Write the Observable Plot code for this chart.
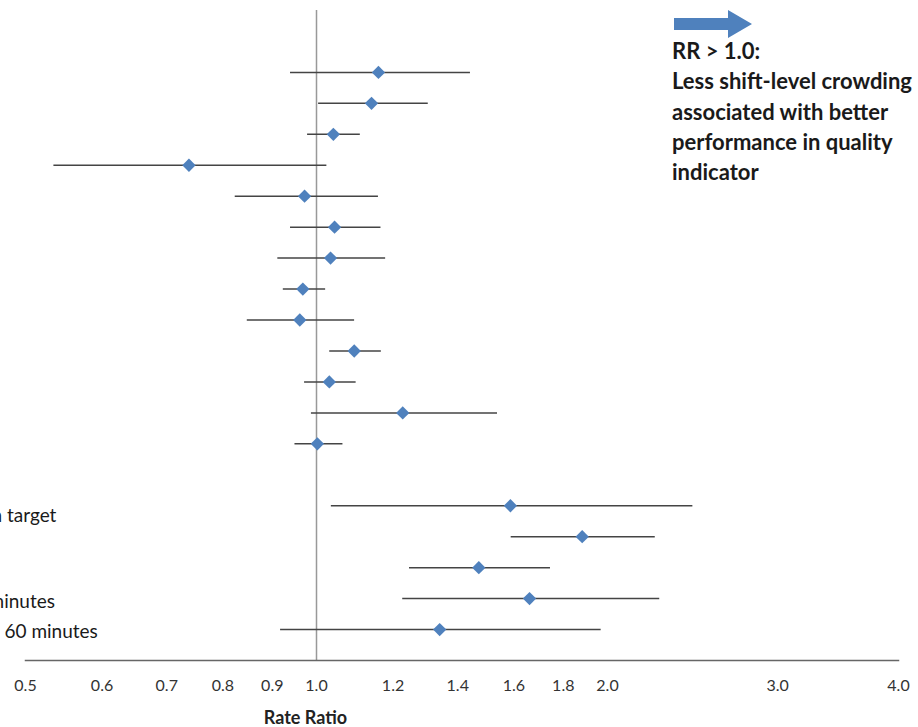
<!DOCTYPE html>
<html>
<head>
<meta charset="utf-8">
<script src="https://cdn.jsdelivr.net/npm/d3@7"></script>
<script src="https://cdn.jsdelivr.net/npm/@observablehq/plot@0.6"></script>
<style>
  html, body { margin: 0; padding: 0; background: #fff; }
  #wrap { position: relative; width: 918px; height: 727px; overflow: hidden; font-family: Lato, "Open Sans", sans-serif; }
  #note { position: absolute; left: 672px; top: 36px; font-weight: bold; font-size: 22px; line-height: 30.3px; color: #1a1a1a; white-space: nowrap; }
  #arrow { position: absolute; left: 672px; top: 8px; }
</style>
</head>
<body>
<div id="wrap"></div>
<script>
// Row identifiers (top to bottom); "gap" and "top" are empty slots
const slots = ["top", "r1", "r2", "r3", "r4", "r5", "r6", "r7", "r8", "r9", "r10", "r11", "r12", "r13", "gap", "r14", "r15", "r16", "r17", "r18"];
const rows = ["r1", "r2", "r3", "r4", "r5", "r6", "r7", "r8", "r9", "r10", "r11", "r12", "r13", "r14", "r15", "r16", "r17", "r18"];
const rateRatio = [1.159, 1.140, 1.041, 0.738, 0.972, 1.044, 1.034, 0.968, 0.961, 1.094, 1.031, 1.228, 1.002, 1.587, 1.883, 1.472, 1.661, 1.341];
const ciLow = [0.940, 1.005, 0.979, 0.535, 0.824, 0.940, 0.912, 0.924, 0.848, 1.032, 0.972, 0.988, 0.950, 1.036, 1.590, 1.248, 1.228, 0.918];
const ciHigh = [1.443, 1.305, 1.110, 1.025, 1.159, 1.166, 1.179, 1.022, 1.095, 1.167, 1.099, 1.539, 1.065, 2.451, 2.241, 1.746, 2.265, 1.970];
// Visible (cropped) row label fragments
const labelRows = ["r14", "r17", "r18"];
const labelTexts = ["n target", "minutes", "60 minutes"];
const labelShift = [-34, -37, -21];
const labelDy = [10, 3, 2];
const tickValues = [0.5, 0.6, 0.7, 0.8, 0.9, 1.0, 1.2, 1.4, 1.6, 1.8, 2.0, 3.0, 4.0];
const xTitle = "Rate Ratio";
const noteLines = ["RR > 1.0:", "Less shift-level crowding", "associated with better", "performance in quality", "indicator"];

const data = rows.map((r, i) => ({row: r, rr: rateRatio[i], lo: ciLow[i], hi: ciHigh[i]}));
const labels = labelRows.map((r, i) => ({row: r, text: labelTexts[i], shift: labelShift[i], dy: labelDy[i]}));

const chart = Plot.plot({
  width: 918,
  height: 727,
  marginLeft: 25,
  marginRight: 20,
  marginTop: 10,
  marginBottom: 67,
  style: {fontFamily: "Lato, 'Open Sans', sans-serif", fontSize: "16px", background: "#fff", overflow: "visible"},
  x: {type: "log", domain: [0.5, 4], ticks: tickValues, tickFormat: d3.format(".1f")},
  y: {type: "point", domain: slots, padding: 1, round: false, axis: null},
  marks: [
    Plot.ruleX([1], {stroke: "#999", strokeWidth: 1.5}),
    Plot.frame({anchor: "bottom", stroke: "#666", strokeWidth: 1.5}),
    Plot.axisX({ticks: tickValues, tickFormat: d3.format(".1f"), tickSize: 0, tickPadding: 19, fontSize: 16, fill: "#333", label: null}),
    Plot.ruleY(data, {y: "row", x1: "lo", x2: "hi", stroke: "#444", strokeWidth: 1.5}),
    Plot.dot(data, {y: "row", x: "rr", symbol: "diamond2", r: 6, fill: "#4f81bd", stroke: "none"}),
    ...labels.map(l => Plot.text([l], {y: "row", text: "text", frameAnchor: "left", textAnchor: "start", dx: l.shift, dy: l.dy, fontSize: 19, fill: "#1a1a1a"})),
    Plot.text([xTitle], {x: [1], frameAnchor: "bottom", dx: -11, dy: 58, fontWeight: "bold", fontSize: 18, fill: "#222", lineAnchor: "middle"})
  ]
});

const wrap = document.getElementById("wrap");
wrap.appendChild(chart);

// arrow annotation
const arr = d3.create("svg").attr("id", "arrow").attr("width", 84).attr("height", 32);
arr.append("path").attr("d", "M2,10 L56,10 L56,2 L80,16 L56,30 L56,22 L2,22 Z").attr("fill", "#4f81bd");
wrap.appendChild(arr.node());

const note = document.createElement("div");
note.id = "note";
note.innerHTML = noteLines.map(s => s.replace(/>/g, "&gt;")).join("<br>");
wrap.appendChild(note);
</script>
</body>
</html>
